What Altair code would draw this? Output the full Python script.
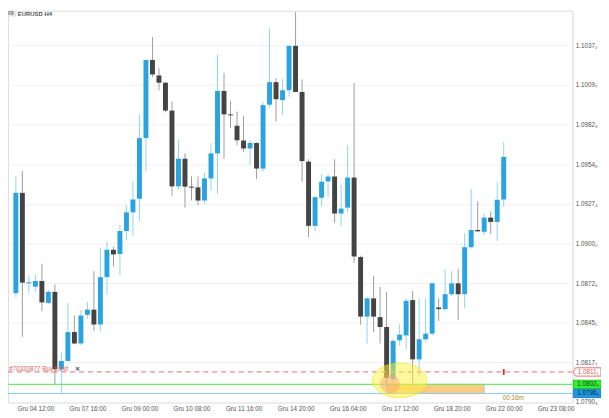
import altair as alt
import pandas as pd

# ---- candle data (EURUSD H4) ----
opens = [1.08656, 1.09350, 1.08724, 1.08701, 1.08740, 1.08589, 1.08665, 1.08130, 1.08187, 1.08387,
         1.08308, 1.08506, 1.08542, 1.08439, 1.08767, 1.08956, 1.08927, 1.09086, 1.09215, 1.09309,
         1.09729, 1.10269, 1.10162, 1.10112, 1.09919, 1.09395, 1.09586, 1.09393, 1.09388, 1.09297,
         1.09450, 1.09623, 1.10055, 1.09893, 1.09814, 1.09712, 1.09657, 1.09695, 1.09518, 1.09960,
         1.10116, 1.09992, 1.10060, 1.10367, 1.10048, 1.09566, 1.09122, 1.09316, 1.09429, 1.09463,
         1.09207, 1.09248, 1.09456, 1.08906, 1.08494, 1.08620, 1.08490, 1.08422, 1.08062, 1.08330,
         1.08364, 1.08608, 1.08198, 1.08337, 1.08376, 1.08557, 1.08546, 1.08649, 1.08724, 1.08649,
         1.08974, 1.09093, 1.09081, 1.09179, 1.09149, 1.09304]
highs = [1.09461, 1.09502, 1.08779, 1.08783, 1.08860, 1.08678, 1.08715, 1.08246, 1.08587, 1.08501,
         1.08540, 1.08596, 1.08808, 1.08972, 1.09013, 1.08979, 1.09127, 1.09263, 1.09434, 1.09889,
         1.10273, 1.10428, 1.10212, 1.10116, 1.09980, 1.09719, 1.09623, 1.09463, 1.09463, 1.09491,
         1.09695, 1.10306, 1.10178, 1.09987, 1.09912, 1.09882, 1.09714, 1.09700, 1.09980, 1.10487,
         1.10144, 1.10139, 1.10369, 1.10599, 1.10135, 1.09582, 1.09331, 1.09480, 1.09480, 1.09582,
         1.09405, 1.09680, 1.10110, 1.08915, 1.08630, 1.08774, 1.08701, 1.08665, 1.08342, 1.08444,
         1.08620, 1.08671, 1.08620, 1.08620, 1.08729, 1.08620, 1.08820, 1.08808, 1.08824, 1.09070,
         1.09377, 1.09291, 1.09207, 1.09222, 1.09422, 1.09700]
lows = [1.08628, 1.08353, 1.08654, 1.08665, 1.08531, 1.08579, 1.08025, 1.07962, 1.08183, 1.08303,
        1.08296, 1.08478, 1.08394, 1.08392, 1.08644, 1.08842, 1.08781, 1.09024, 1.09054, 1.09156,
        1.09497, 1.10151, 1.10060, 1.09907, 1.09331, 1.09372, 1.09248, 1.09297, 1.09263, 1.09275,
        1.09366, 1.09343, 1.09586, 1.09798, 1.09680, 1.09634, 1.09543, 1.09445, 1.09497, 1.09939,
        1.09843, 1.09889, 1.10014, 1.10046, 1.09427, 1.09043, 1.09086, 1.09256, 1.09320, 1.09142,
        1.09122, 1.09213, 1.08865, 1.08437, 1.08308, 1.08387, 1.08308, 1.08020, 1.08041, 1.08292,
        1.08269, 1.08035, 1.08080, 1.08319, 1.08364, 1.08463, 1.08535, 1.08637, 1.08471, 1.08551,
        1.08963, 1.09077, 1.09058, 1.09065, 1.09017, 1.09256]
closes = [1.09350, 1.08729, 1.08731, 1.08740, 1.08592, 1.08665, 1.08130, 1.08187, 1.08387, 1.08308,
          1.08501, 1.08542, 1.08439, 1.08767, 1.08956, 1.08924, 1.09086, 1.09215, 1.09304, 1.09729,
          1.10269, 1.10169, 1.10112, 1.09919, 1.09395, 1.09586, 1.09393, 1.09386, 1.09297, 1.09450,
          1.09623, 1.10055, 1.09893, 1.09886, 1.09714, 1.09657, 1.09695, 1.09518, 1.09957, 1.10116,
          1.09998, 1.10060, 1.10367, 1.10048, 1.09570, 1.09122, 1.09320, 1.09427, 1.09463, 1.09207,
          1.09241, 1.09456, 1.08910, 1.08494, 1.08620, 1.08494, 1.08422, 1.08069, 1.08326, 1.08369,
          1.08603, 1.08198, 1.08337, 1.08376, 1.08724, 1.08546, 1.08649, 1.08724, 1.08649, 1.08974,
          1.09093, 1.09084, 1.09179, 1.09149, 1.09302, 1.09598]

x_tick_values = [3, 11, 19, 27, 35, 43, 51, 59, 67, 75, 83]
x_tick_labels = ["Gru 04 12:00", "Gru 07 16:00", "Gru 09 00:00", "Gru 10 08:00", "Gru 11 16:00",
                 "Gru 14 20:00", "Gru 16 04:00", "Gru 17 12:00", "Gru 18 20:00", "Gru 22 00:00",
                 "Gru 23 08:00"]
y_tick_values = [1.07903, 1.08177, 1.08451, 1.08726, 1.09000, 1.09274, 1.09548, 1.09823, 1.10097, 1.10371]
y_tick_labels = ["1.0790\u2083", "1.0817\u2087", "1.0845\u2081", "1.0872\u2086", "1.0900\u2080",
                 "1.0927\u2084", "1.0954\u2088", "1.0982\u2083", "1.1009\u2087", "1.1037\u2081"]

order_price = 1.08111
order_tag = "1.0811\u2081"
green_price = 1.08025
green_tag = "1.0802\u2085"
blue_price = 1.07962
blue_tag = "1.0796\u2082"
zone_from, zone_to = 57, 72
highlight_center = (59, 1.08052)
spot_center = (57.5, 1.08028)
order_label = "#70320877 Buy Limit"
timer_label = "00:16m"
symbol_label = "EURUSD H4"

W, H = 572, 397
FONT = "Liberation Sans"

df = pd.DataFrame({"idx": list(range(len(opens))), "open": opens, "high": highs,
                   "low": lows, "close": closes})
one = pd.DataFrame({"k": [0]})  # single row for annotations

xs = alt.Scale(domain=[-0.45, 84.8], nice=False, zero=False)
ys = alt.Scale(domain=[1.0790, 1.1061], nice=False, zero=False)

x_axis = alt.Axis(values=x_tick_values, grid=False, ticks=False, domain=True, domainColor="#ececec",
                  labelExpr=f"{x_tick_labels}[indexof({x_tick_values}, datum.value)]",
                  labelFont=FONT, labelFontSize=6.4, labelColor="#555555", labelPadding=3,
                  labelFlush=False, labelOverlap=False, title=None)
y_axis = alt.Axis(orient="right", values=y_tick_values, grid=True, gridColor="#f1f1f1", ticks=False,
                  domain=True, domainColor="#e6e6e6",
                  labelExpr=f"{y_tick_labels}[indexof({y_tick_values}, datum.value)]",
                  labelFont=FONT, labelFontSize=6.4, labelColor="#555555", labelPadding=3,
                  labelAlign="left", labelOverlap=False, labelFlush=False, title=None)

up = "datum.close >= datum.open"
base = alt.Chart(df)
wicks = base.mark_rule(strokeWidth=1).encode(
    x=alt.X("idx:Q", scale=xs, axis=x_axis),
    y=alt.Y("low:Q", scale=ys, axis=y_axis),
    y2="high:Q",
    color=alt.condition(up, alt.value("#8ed2f3"), alt.value("#9c9c9c")),
)
bodies = base.mark_bar(size=5).encode(
    x="idx:Q", y="open:Q", y2="close:Q",
    color=alt.condition(up, alt.value("#2aa4e0"), alt.value("#444444")),
)

ann = alt.Chart(one)

zone = ann.mark_rect(fill="#ffc980", stroke="#8cc7ea", strokeWidth=0.8).encode(
    x=alt.datum(zone_from), x2=alt.datum(zone_to), y=alt.datum(blue_price), y2=alt.datum(green_price))

green_line = ann.mark_rule(color="#6fe86f", strokeWidth=1.2).encode(y=alt.datum(green_price))
blue_line = ann.mark_rule(color="#8ccbf0", strokeWidth=1.2).encode(y=alt.datum(blue_price))
order_line = ann.mark_rule(color="#e58c8c", strokeWidth=1.3, strokeDash=[5, 4]).encode(
    y=alt.datum(order_price))

ellipse_path = "M-1,0A1,0.636,0,1,0,1,0A1,0.636,0,1,0,-1,0Z"
highlight = ann.mark_point(shape=ellipse_path, size=3025, filled=True, fill="#fff23c",
                           fillOpacity=0.5, stroke="#f3e300", strokeOpacity=0.6,
                           strokeWidth=1, opacity=1).encode(
    x=alt.datum(highlight_center[0]), y=alt.datum(highlight_center[1]))
spot = ann.mark_point(shape="circle", size=400, filled=True, color="#f6a07c",
                      opacity=0.45).encode(
    x=alt.datum(spot_center[0]), y=alt.datum(spot_center[1]))

marker = ann.mark_point(shape="M-0.3,-1L0.3,-1L0.3,1L-0.3,1Z", size=36, filled=True,
                        color="#b83232", opacity=1).encode(
    x=alt.datum(75), y=alt.datum(order_price))

order_text = ann.mark_text(align="left", baseline="middle", dy=-2.5, font=FONT,
                           fontSize=6.4, color="#e06262", text=order_label).encode(
    x=alt.value(1), y=alt.datum(order_price))
close_x = ann.mark_text(align="left", baseline="middle", dy=-2.5, font=FONT,
                        fontSize=6, color="#777777", text="\u2716").encode(
    x=alt.value(68), y=alt.datum(order_price))
timer_text = ann.mark_text(align="left", baseline="middle", dx=-1, dy=4.5, font=FONT,
                           fontSize=6.4, color="#a8862a", text=timer_label).encode(
    x=alt.datum(75), y=alt.datum(blue_price))

box_path = "M-1,-0.3L1,-0.3L1,0.3L-1,0.3Z"
tag_path = "M-0.85,-0.3L1,-0.3L1,0.3L-0.85,0.3L-1,0Z"
BX = W + 15


def price_box(price, label, path, fill, stroke, txt):
    b = ann.mark_point(shape=path, size=784, filled=True, fill=fill, stroke=stroke,
                       strokeWidth=1, opacity=1, fillOpacity=1).encode(
        x=alt.value(BX), y=alt.datum(price))
    t = ann.mark_text(align="center", baseline="middle", font=FONT, fontSize=6.4,
                      color=txt, text=label, dx=1).encode(
        x=alt.value(BX), y=alt.datum(price))
    return b + t


red_box = price_box(order_price, order_tag, tag_path, "#ffffff", "#e07070", "#e05a5a")
green_box = price_box(green_price, green_tag, box_path, "#2ff02f", "#22c822", "#1e3a1e")
blue_box = price_box(blue_price, blue_tag, box_path, "#1f98e2", "#1a80c8", "#0d2a44")

fx_box = ann.mark_point(shape="M-1,-0.6L1,-0.6L1,0.6L-1,0.6Z", size=100, filled=True,
                        fill="#e4e4e4", opacity=1).encode(x=alt.value(3), y=alt.value(3))
fx_text = ann.mark_text(align="center", baseline="middle", font=FONT, fontSize=4.5,
                        fontWeight="bold", color="#666666", text="FX").encode(
    x=alt.value(3), y=alt.value(3.3))
title_text = ann.mark_text(align="left", baseline="middle", font=FONT, fontSize=6,
                           fontWeight="bold", color="#555555", text=symbol_label).encode(
    x=alt.value(10), y=alt.value(3.3))

chart = alt.layer(
    wicks, bodies, zone, order_line, green_line, blue_line, highlight, spot, marker,
    order_text, close_x, timer_text, red_box, green_box, blue_box, fx_box, fx_text, title_text,
).properties(
    width=W, height=H,
    autosize=alt.AutoSizeParams(type="none"),
    padding={"left": 0, "top": 0, "right": 29, "bottom": 13},
).configure_view(stroke=None).configure(background="#ffffff")

chart.save("out.html", embed_options={"renderer": "svg", "actions": False})
